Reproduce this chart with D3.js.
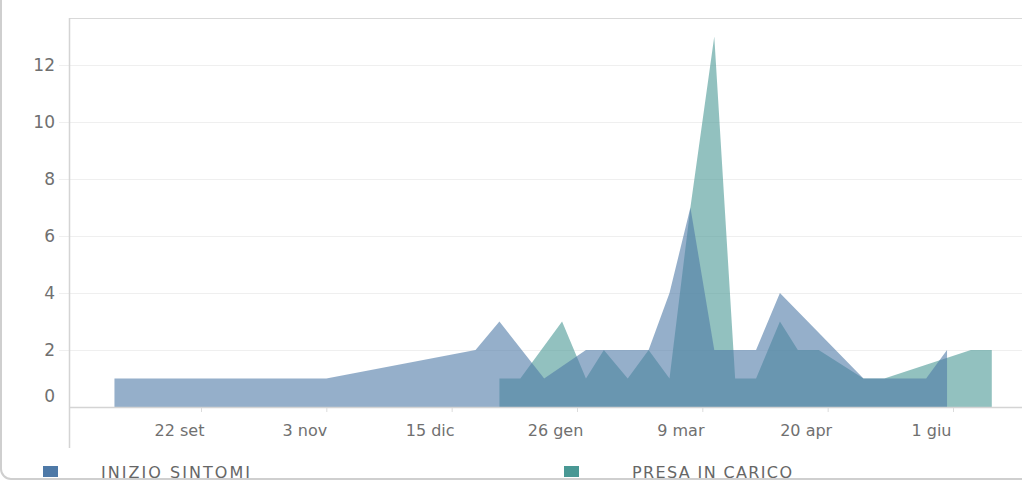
<!DOCTYPE html>
<html>
<head>
<meta charset="utf-8">
<script src="https://cdn.jsdelivr.net/npm/d3@7"></script>
<style>
  html, body { margin: 0; padding: 0; background: #fff; }
  svg { display: block; }
  text { font-family: "DejaVu Sans", sans-serif; }
</style>
</head>
<body>
<svg id="chart" width="1022" height="481"></svg>
<script>
// ---- data ----
const seriesNames = ["INIZIO SINTOMI", "PRESA IN CARICO"];
const seriesColors = ["#4e79a7", "#499894"];

const inizioDates = ["2020-08-24","2020-11-03","2020-12-23","2020-12-31","2021-01-15","2021-01-29","2021-02-19","2021-02-26","2021-03-05","2021-03-13","2021-03-27","2021-04-04","2021-05-02","2021-05-23","2021-05-30"];
const inizioValues = [1, 1, 2, 3, 1, 2, 2, 4, 7, 2, 2, 4, 1, 1, 2];

const presaDates = ["2020-12-31","2021-01-07","2021-01-21","2021-01-29","2021-02-04","2021-02-12","2021-02-19","2021-02-26","2021-03-05","2021-03-13","2021-03-20","2021-03-27","2021-04-04","2021-04-10","2021-04-17","2021-05-02","2021-05-09","2021-06-07","2021-06-14"];
const presaValues = [1, 1, 3, 1, 2, 1, 2, 1, 7, 13, 1, 1, 3, 2, 2, 1, 1, 2, 2];

const xTickDates = ["2020-09-22","2020-11-03","2020-12-15","2021-01-26","2021-03-09","2021-04-20","2021-06-01"];
const xTickLabels = ["22 set","3 nov","15 dic","26 gen","9 mar","20 apr","1 giu"];
const yTickValues = [0, 2, 4, 6, 8, 10, 12];

// ---- setup ----
const parse = d3.timeParse("%Y-%m-%d");
const svg = d3.select("#chart");
const W = 1022, H = 481;
const plot = { left: 69, right: 1022, top: 18, bottom: 407 };

const x = d3.scaleTime()
  .domain([parse(xTickDates[0]), parse(xTickDates[6])])
  .range([201, 953]);
const y = d3.scaleLinear().domain([0, 13.65]).range([plot.bottom, plot.top]);

const inizio = inizioDates.map((d, i) => ({ date: parse(d), v: inizioValues[i] }));
const presa = presaDates.map((d, i) => ({ date: parse(d), v: presaValues[i] }));

// card border
svg.append("rect")
  .attr("x", 1).attr("y", -40).attr("width", 1100).attr("height", 519)
  .attr("rx", 10).attr("fill", "none")
  .attr("stroke", "#cfcfcf").attr("stroke-width", 2);

// clip
svg.append("clipPath").attr("id", "clip")
  .append("rect").attr("x", plot.left).attr("y", plot.top)
  .attr("width", plot.right - plot.left).attr("height", plot.bottom - plot.top);

// gridlines
svg.append("g").selectAll("line")
  .data(yTickValues.filter(v => v > 0))
  .join("line")
  .attr("x1", 59).attr("x2", plot.right)
  .attr("y1", d => Math.round(y(d)) + 0.5).attr("y2", d => Math.round(y(d)) + 0.5)
  .attr("stroke", "#efefef").attr("stroke-width", 1.2);

// areas
const area = d3.area()
  .x(d => x(d.date))
  .y0(y(0))
  .y1(d => y(d.v));

const g = svg.append("g").attr("clip-path", "url(#clip)");
g.append("path").datum(presa)
  .attr("d", area)
  .attr("fill", seriesColors[1]).attr("fill-opacity", 0.6);
g.append("path").datum(inizio)
  .attr("d", area)
  .attr("fill", seriesColors[0]).attr("fill-opacity", 0.6);

// frame lines
svg.append("line")
  .attr("x1", plot.left).attr("x2", plot.right)
  .attr("y1", plot.top + 0.5).attr("y2", plot.top + 0.5)
  .attr("stroke", "#d9d9d9");
svg.append("line")
  .attr("x1", plot.left + 0.5).attr("x2", plot.left + 0.5)
  .attr("y1", plot.top).attr("y2", 448)
  .attr("stroke", "#d4d4d4").attr("stroke-width", 1.5);
svg.append("line")
  .attr("x1", plot.left).attr("x2", plot.right)
  .attr("y1", plot.bottom + 0.5).attr("y2", plot.bottom + 0.5)
  .attr("stroke", "#d4d4d4").attr("stroke-width", 1.5);

// y labels
svg.append("g").selectAll("text")
  .data(yTickValues)
  .join("text")
  .attr("x", 55)
  .attr("y", d => d === 0 ? y(0) - 11 : y(d))
  .attr("dy", "0.36em")
  .attr("text-anchor", "end")
  .attr("font-size", 17)
  .attr("fill", "#707070")
  .text(d => d);

// x axis
const xAxis = d3.axisBottom(x)
  .tickValues(xTickDates.map(parse))
  .tickSize(4)
  .tickFormat((d, i) => xTickLabels[i]);
const ax = svg.append("g")
  .attr("transform", `translate(0,${plot.bottom + 1})`)
  .call(xAxis);
ax.select(".domain").remove();
ax.selectAll(".tick line").attr("stroke", "#dcdcdc");
ax.selectAll(".tick text")
  .attr("x", -22)
  .attr("y", 22)
  .attr("dy", "0.36em")
  .attr("font-family", "DejaVu Sans")
  .attr("font-size", 16)
  .attr("fill", "#707070");

// legend
const legend = svg.append("g");
const legX = [43, 564];
const legTextX = [101, 632];
const legW = [149, 160];
seriesNames.forEach((name, i) => {
  legend.append("rect")
    .attr("x", legX[i]).attr("y", 466).attr("width", 15).attr("height", 11)
    .attr("fill", seriesColors[i]);
  legend.append("text")
    .attr("x", legTextX[i]).attr("y", 477.5)
    .attr("font-size", 16)
    .attr("fill", "#666")
    .attr("textLength", legW[i])
    .attr("lengthAdjust", "spacing")
    .text(name);
});
</script>
</body>
</html>
